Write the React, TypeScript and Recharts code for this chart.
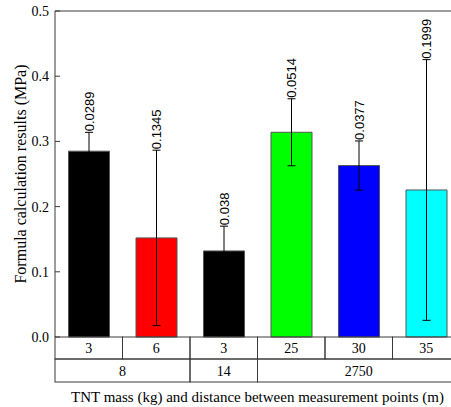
import React from 'react';
import { BarChart, Bar, XAxis, YAxis, ErrorBar, Cell, LabelList, ReferenceLine } from 'recharts';

// ---- data ----
const ids = ['a', 'b', 'c', 'd', 'e', 'f'];
const distances = ['3', '6', '3', '25', '30', '35'];
const groups = ['8', '8', '14', '2750', '2750', '2750'];
const values = [0.285, 0.152, 0.132, 0.314, 0.263, 0.2255];
const errors = [0.0289, 0.1345, 0.038, 0.0514, 0.0377, 0.1999];
const colors = ['#000000', '#ff0000', '#000000', '#00ff00', '#0000ff', '#00ffff'];
const yTicks = [0, 0.1, 0.2, 0.3, 0.4, 0.5];
const yLabel = 'Formula calculation results (MPa)';
const xTitle = 'TNT mass (kg) and distance between measurement points (m)';

const data = ids.map((id, i) => ({
  id,
  dist: distances[i],
  group: groups[i],
  value: values[i],
  err: errors[i],
}));

// ---- layout ----
const CHART_W = 470;
const CHART_H = 407;
const MARGIN = { top: 11, right: 10, left: 0, bottom: 0 };
const Y_AXIS_W = 55;
const PLOT_W = CHART_W - MARGIN.left - MARGIN.right - Y_AXIS_W;
const BAND = PLOT_W / data.length;
const ROW1_H = 22;
const ROW2_H = 23;
const GRP_AXIS_H = 48;
const LINE = '#3a3a3a';
const SERIF_STYLE = { fontFamily: 'Liberation Serif, serif' };
const SANS_STYLE = { fontFamily: 'Liberation Sans, sans-serif' };

const DistTick = (props: any) => {
  const { x, y, payload } = props;
  const idx = ids.indexOf(payload.value);
  return (
    <g>
      <rect x={x - BAND / 2} y={y} width={BAND} height={ROW1_H} fill="none" stroke={LINE} strokeWidth={1} />
      <text x={x} y={y + ROW1_H / 2} dy="0.36em" textAnchor="middle" style={SERIF_STYLE} fontSize={14} fill="#000">
        {distances[idx]}
      </text>
    </g>
  );
};

const GroupTick = (props: any) => {
  const { x, y, payload } = props;
  const idx = ids.indexOf(payload.value);
  if (idx < 0) return <g />;
  if (idx > 0 && groups[idx - 1] === groups[idx]) return <g />;
  let n = 1;
  while (idx + n < groups.length && groups[idx + n] === groups[idx]) n++;
  const left = x - BAND / 2;
  const w = n * BAND;
  return (
    <g>
      <rect x={left} y={y} width={w} height={ROW2_H} fill="none" stroke={LINE} strokeWidth={1} />
      <text x={left + w / 2} y={y + ROW2_H / 2} dy="0.36em" textAnchor="middle" style={SERIF_STYLE} fontSize={14} fill="#000">
        {groups[idx]}
      </text>
    </g>
  );
};

const YTick = (props: any) => {
  const { x, y, payload } = props;
  return (
    <g>
      <line x1={x + 6} x2={x + 11} y1={y} y2={y} stroke={LINE} strokeWidth={1} />
      <text x={x} y={y} dy="0.36em" textAnchor="end" style={SERIF_STYLE} fontSize={14} fill="#000">
        {Number(payload.value).toFixed(1)}
      </text>
    </g>
  );
};

const YLabel = (props: any) => {
  const vb = props.viewBox || { x: 0, y: 0, width: 0, height: 0 };
  const cx = vb.x + 20;
  const cy = vb.y + vb.height / 2;
  return (
    <text
      x={cx}
      y={cy}
      transform={`rotate(-90 ${cx} ${cy})`}
      textAnchor="middle"
      dy="0.36em"
      style={SERIF_STYLE}
      fontSize={16}
      fill="#000"
    >
      {yLabel}
    </text>
  );
};

const XTitle = (props: any) => {
  const vb = props.viewBox || { x: 0, y: 0, width: 0, height: 0 };
  return (
    <text
      x={vb.x + vb.width / 2}
      y={vb.y + vb.height - 5}
      textAnchor="middle"
      style={SERIF_STYLE}
      fontSize={15}
      fill="#000"
    >
      {xTitle}
    </text>
  );
};

const ErrLabel = (props: any) => {
  const { x, y, width, height, index } = props;
  const d = data[index];
  if (!d) return null;
  const pxPerUnit = Number(height) / d.value;
  const top = Number(y) - d.err * pxPerUnit;
  const cx = Number(x) + Number(width) / 2;
  const ty = top - 1;
  return (
    <text
      x={cx}
      y={ty}
      transform={`rotate(-90 ${cx} ${ty})`}
      dy="0.36em"
      textAnchor="start"
      style={SANS_STYLE}
      fontSize={13}
      fill="#000"
    >
      {String(d.err)}
    </text>
  );
};

export default function App() {
  return (
    <div style={{ position: 'absolute', left: 0, top: 0, width: 451, height: 407, overflow: 'hidden', background: '#fff' }}>
      <BarChart width={CHART_W} height={CHART_H} data={data} margin={MARGIN} barCategoryGap="20%">
        <XAxis
          dataKey="id"
          height={ROW1_H}
          tickLine={false}
          axisLine={false}
          tickSize={0}
          tickMargin={0}
          interval={0}
          tick={<DistTick />}
        />
        <XAxis
          xAxisId="grp"
          dataKey="id"
          height={GRP_AXIS_H}
          tickLine={false}
          axisLine={false}
          tickSize={0}
          tickMargin={0}
          interval={0}
          tick={<GroupTick />}
          label={<XTitle />}
        />
        <YAxis
          width={Y_AXIS_W}
          domain={[0, 0.5]}
          ticks={yTicks}
          type="number"
          tickLine={false}
          tickSize={0}
          tickMargin={6}
          axisLine={{ stroke: LINE }}
          tick={<YTick />}
          label={<YLabel />}
          interval={0}
        />
        <ReferenceLine y={0.5} stroke={LINE} strokeWidth={1} />
        <Bar dataKey="value" isAnimationActive={false}>
          {data.map((d, i) => (
            <Cell key={d.id} fill={colors[i]} stroke="#555" strokeWidth={1} />
          ))}
          <ErrorBar dataKey="err" width={4} stroke="#000" strokeWidth={1} direction="y" />
          <LabelList dataKey="err" content={<ErrLabel />} />
        </Bar>
      </BarChart>
    </div>
  );
}
